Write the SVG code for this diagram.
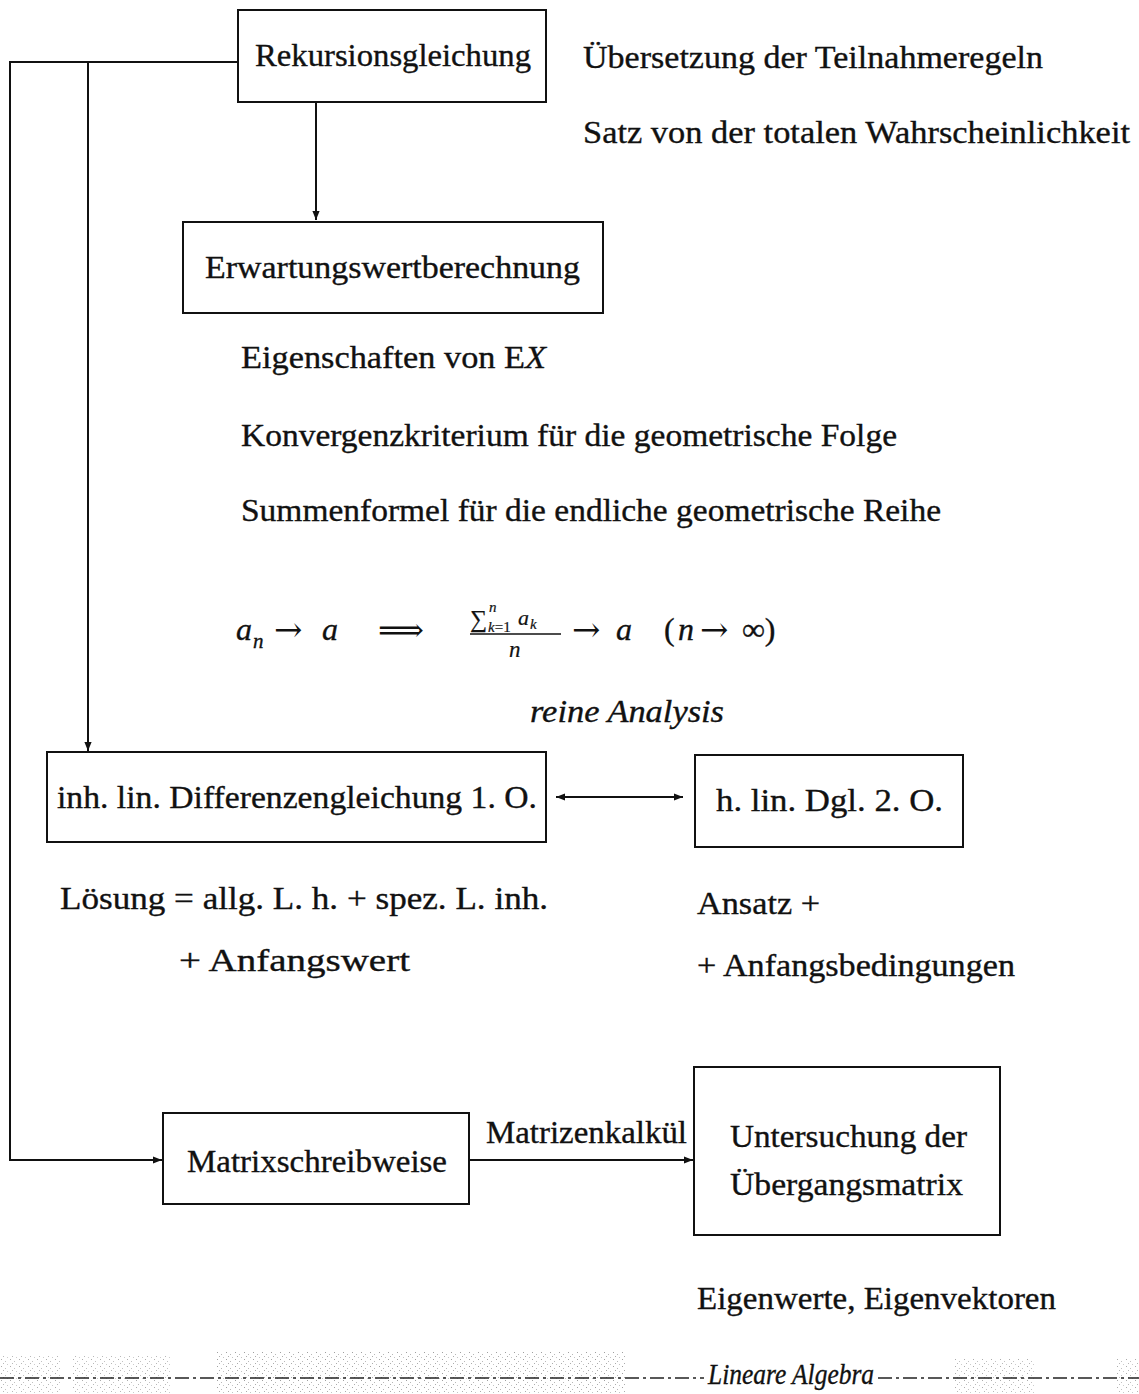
<svg xmlns="http://www.w3.org/2000/svg" width="1139" height="1394" viewBox="0 0 1139 1394">
<defs>
<style>
.t{font-family:"Liberation Serif","Times New Roman",serif;font-size:32px;fill:#111;stroke:#111;stroke-width:0.35}
.i{font-style:italic}
.ar{font-family:"DejaVu Serif",serif;font-size:34px;fill:#111}
.box{fill:none;stroke:#111;stroke-width:2}
.ln{fill:none;stroke:#111;stroke-width:2}
</style>
<marker id="ah" viewBox="0 0 10 10" refX="10" refY="5" markerWidth="13" markerHeight="9" markerUnits="userSpaceOnUse" orient="auto-start-reverse">
<path d="M0,1 L10,5 L0,9 Z" fill="#111"/>
</marker>
<pattern id="noise" width="9" height="7" patternUnits="userSpaceOnUse">
<rect x="1" y="1" width="1" height="1" fill="#777"/>
<rect x="5" y="3" width="1" height="1" fill="#999"/>
<rect x="3" y="5" width="1" height="1" fill="#888"/>
<rect x="7" y="6" width="1" height="1" fill="#aaa"/>
</pattern>
</defs>
<rect width="1139" height="1394" fill="#fff"/>

<g id="connectors">
<polyline class="ln" points="238,62 10,62 10,1160 162,1160" marker-end="url(#ah)"/>
<polyline class="ln" points="88,62 88,751" marker-end="url(#ah)"/>
<line class="ln" x1="316" y1="102" x2="316" y2="220" marker-end="url(#ah)"/>
<line class="ln" x1="556" y1="797" x2="683" y2="797" marker-start="url(#ah)" marker-end="url(#ah)"/>
<line class="ln" x1="469" y1="1160" x2="693" y2="1160" marker-end="url(#ah)"/>
<text class="t" x="486" y="1143" textLength="201" lengthAdjust="spacingAndGlyphs">Matrizenkalkül</text>
</g>

<g id="n-rekursion">
<rect class="box" x="238" y="10" width="308" height="92"/>
<text class="t" x="255" y="66" textLength="276" lengthAdjust="spacingAndGlyphs">Rekursionsgleichung</text>
</g>
<g id="n-rekursion-notes">
<text class="t" x="583" y="68" textLength="460" lengthAdjust="spacingAndGlyphs">Übersetzung der Teilnahmeregeln</text>
<text class="t" x="583" y="143" textLength="547" lengthAdjust="spacingAndGlyphs">Satz von der totalen Wahrscheinlichkeit</text>
</g>

<g id="n-erwartung">
<rect class="box" x="183" y="222" width="420" height="91"/>
<text class="t" x="205" y="278" textLength="375" lengthAdjust="spacingAndGlyphs">Erwartungswertberechnung</text>
</g>
<g id="n-erwartung-notes">
<text class="t" x="241" y="368" textLength="305" lengthAdjust="spacingAndGlyphs">Eigenschaften von E<tspan class="i">X</tspan></text>
<text class="t" x="241" y="446" textLength="656" lengthAdjust="spacingAndGlyphs">Konvergenzkriterium für die geometrische Folge</text>
<text class="t" x="241" y="521" textLength="700" lengthAdjust="spacingAndGlyphs">Summenformel für die endliche geometrische Reihe</text>
</g>

<g id="formula">
<text class="t i" x="236" y="640">a</text>
<text class="t i" x="253" y="648" style="font-size:21px">n</text>
<text class="ar" x="274" y="641">→</text>
<text class="t i" x="322" y="640">a</text>
<text class="ar" x="378" y="641" style="font-size:32px">⟹</text>
<text class="t" x="470" y="627" style="font-size:24px;stroke-width:0.2">∑</text>
<text class="t i" x="489" y="612" style="font-size:15px;stroke-width:0.2">n</text>
<text class="t i" x="488" y="632" style="font-size:15px;stroke-width:0.2">k<tspan font-style="normal">=1</tspan></text>
<text class="t i" x="518" y="625" style="font-size:22px;stroke-width:0.2">a</text>
<text class="t i" x="530" y="629" style="font-size:15px;stroke-width:0.2">k</text>
<line x1="470" y1="634" x2="561" y2="634" stroke="#111" stroke-width="1.6"/>
<text class="t i" x="509" y="657" style="font-size:23px;stroke-width:0.2">n</text>
<text class="ar" x="572" y="641">→</text>
<text class="t i" x="616" y="640">a</text>
<text class="t" x="664" y="640">(</text>
<text class="t i" x="678" y="640">n</text>
<text class="ar" x="700" y="641">→</text>
<text class="t" x="742" y="640">∞)</text>
</g>
<g id="label-analysis">
<text class="t i" x="530" y="722" textLength="194" lengthAdjust="spacingAndGlyphs">reine Analysis</text>
</g>

<g id="n-inh">
<rect class="box" x="47" y="752" width="499" height="90"/>
<text class="t" x="57" y="808" textLength="480" lengthAdjust="spacingAndGlyphs">inh. lin. Differenzengleichung 1. O.</text>
</g>
<g id="n-inh-notes">
<text class="t" x="60" y="909" textLength="488" lengthAdjust="spacingAndGlyphs">Lösung = allg. L. h. + spez. L. inh.</text>
<text class="t" x="179" y="971" textLength="231" lengthAdjust="spacingAndGlyphs">+ Anfangswert</text>
</g>

<g id="n-hlin">
<rect class="box" x="695" y="755" width="268" height="92"/>
<text class="t" x="716" y="811" textLength="227" lengthAdjust="spacingAndGlyphs">h. lin. Dgl. 2. O.</text>
</g>
<g id="n-hlin-notes">
<text class="t" x="697" y="914" textLength="123" lengthAdjust="spacingAndGlyphs">Ansatz +</text>
<text class="t" x="697" y="976" textLength="318" lengthAdjust="spacingAndGlyphs">+ Anfangsbedingungen</text>
</g>

<g id="n-matrix">
<rect class="box" x="163" y="1113" width="306" height="91"/>
<text class="t" x="187" y="1172" textLength="260" lengthAdjust="spacingAndGlyphs">Matrixschreibweise</text>
</g>

<g id="n-uebergang">
<rect class="box" x="694" y="1067" width="306" height="168"/>
<text class="t" x="730" y="1147" textLength="237" lengthAdjust="spacingAndGlyphs">Untersuchung der</text>
<text class="t" x="730" y="1195" textLength="233" lengthAdjust="spacingAndGlyphs">Übergangsmatrix</text>
</g>
<g id="n-uebergang-notes">
<text class="t" x="697" y="1309" textLength="359" lengthAdjust="spacingAndGlyphs">Eigenwerte, Eigenvektoren</text>
</g>

<g id="footer">
<rect x="0" y="1356" width="60" height="38" fill="url(#noise)" opacity="0.6"/>
<rect x="72" y="1356" width="100" height="38" fill="url(#noise)" opacity="0.6"/>
<rect x="215" y="1352" width="410" height="42" fill="url(#noise)" opacity="0.7"/>
<rect x="955" y="1358" width="80" height="36" fill="url(#noise)" opacity="0.6"/>
<rect x="1115" y="1358" width="24" height="36" fill="url(#noise)" opacity="0.6"/>
<line x1="0" y1="1378" x2="704" y2="1378" stroke="#222" stroke-width="1.6" stroke-dasharray="14,4,3,4"/>
<line x1="878" y1="1378" x2="1139" y2="1378" stroke="#222" stroke-width="1.6" stroke-dasharray="14,4,3,4"/>
<text class="t i" x="708" y="1384" textLength="166" lengthAdjust="spacingAndGlyphs" style="font-size:29px">Lineare Algebra</text>
</g>
</svg>
